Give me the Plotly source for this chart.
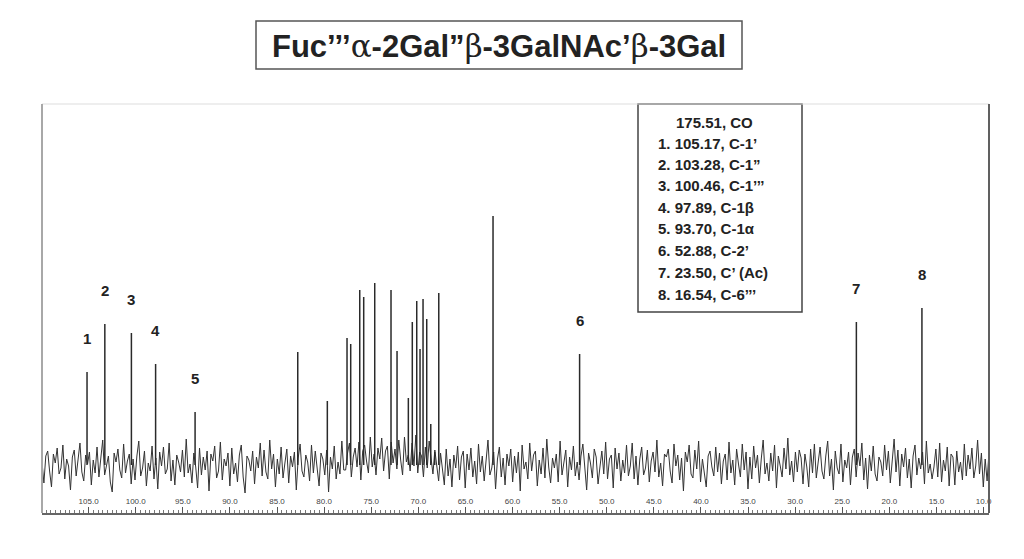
import numpy as np
import plotly.graph_objects as go

# ---- data ----
peak_ppm = [105.17, 103.28, 100.46, 97.89, 93.70, 82.80, 79.66, 77.57, 77.18, 76.22,
            75.80, 74.63, 72.90, 72.26, 71.06, 70.64, 70.17, 69.82, 69.50, 69.11,
            68.68, 68.26, 67.83, 62.07, 52.88, 23.50, 16.54]
peak_height = [93, 141, 132, 101, 53, 113, 64, 127, 121, 175,
               168, 182, 175, 114, 67, 143, 164, 116, 166, 146,
               41, 13, 172, 249, 111, 143, 157]

label_names = ["1", "2", "3", "4", "5", "6", "7", "8"]
label_ppm = [105.17, 103.28, 100.46, 97.89, 93.70, 52.88, 23.50, 16.54]
label_height = [93, 141, 132, 101, 53, 111, 143, 157]

assign_header = "175.51, CO"
assign_lines = ["1. 105.17, C-1’", "2. 103.28, C-1”", "3. 100.46, C-1’’’",
                "4. 97.89, C-1β", "5. 93.70, C-1α", "6. 52.88, C-2’",
                "7. 23.50, C’ (Ac)", "8. 16.54, C-6’’’"]

# baseline noise, left (high ppm) to right (low ppm), estimated from the trace
baseline_noise = [
    3, -18, 9, 14, -6, -22, 11, 2, 17, -9,
    -3, 20, -14, 6, -1, -25, 8, 15, -11, 4,
    22, -7, -16, 10, 1, 13, -20, 5, -8, 18,
    -12, 7, 25, -10, -2, 9, -17, -27, 12, 3,
    16, -5, -13, 21, -8, 4, 11, -19, 6, -15,
    9, 24, -11, -3, 14, -21, 2, -6, 19, -14,
    7, -24, 13, -1, 18, -9, -4, 22, -16, 5,
    -20, 10, 3, -7, 15, -12, 26, -8, 1, -18,
    12, -2, -23, 17, -10, 8, -5, 14, -26, 11,
    4, 19, -13, -6, 23, -15, 6, -1, 12, -21,
    17, -9, 2, -17, 10, 20, -12, -28, 9, 5,
    -6, 14, -19, 8, -3, 22, -11, 15, -7, -14,
    25, -4, 11, -22, 6, -9, 18, -13, 2, 16,
    -18, 9, -2, 13, -25, 7, 21, -6, -12, 10,
    3, -16, 20, -8, 14, -1, -21, 12, 6, -10,
    15, -27, 8, -4, 19, -14, 3, -9, 24, -5,
    -5, 12, 22, -12, 8, 17, -2, 23, -15, 14,
    20, 4, -8, 28, -2, 11, -10, 17, 6, 27,
    -6, 14, 19, -14, 23, 2, 16, -4, 25, 5,
    -10, 28, 3, 10, -6, 22, -1, 30, -8, 13,
    9, -12, 18, -3, 24, 7, -9, 15, 1, -16,
    12, -4, -20, 16, -11, 6, -22, 10, -3, 19,
    -15, 8, 14, -23, 11, -5, 17, -12, 4, -19,
    21, -7, 9, -16, 2, 25, -10, -3, 13, -24,
    6, 18, -12, 7, -20, 11, -1, 16, -17, 9,
    -8, 13, -26, 20, -4, 3, -14, 22, -6, 10,
    14, -21, 5, -9, 17, -13, 26, -2, -18, 7,
    -3, 11, -17, 24, -10, 1, 15, -22, 8, -5,
    19, -11, 3, -15, 9, 21, -6, -25, 12, 2,
    -13, 16, 8, -19, -2, 14, -9, 23, -14, 6,
    10, -23, 17, -4, 12, -16, 5, -8, 20, -11,
    -1, 22, -14, 9, -20, 6, 18, -10, -3, 15,
    -17, 4, 13, -7, 25, -12, 2, -21, 11, 8,
    16, -6, -18, 21, -1, 10, -15, 7, -26, 13,
    3, 20, -9, -13, 15, -4, 24, -17, 6, -10,
    -22, 9, 14, -2, -11, 18, -7, 12, -19, 4,
    11, -15, 23, -8, 5, -20, 16, 1, -12, 21,
    -5, 13, -24, 8, -14, 19, -3, 10, -18, 6,
    25, -9, 2, -16, 12, -6, 20, -23, 9, -1,
    -12, 17, -4, 27, -10, 4, -17, 13, -7, 15,
    7, -19, 11, -2, -22, 16, -8, 21, -13, 3,
    18, -6, -14, 9, 24, -11, 6, -25, 14, -3,
    -9, 21, -17, 5, -3, 13, -20, 8, 16, -12,
    12, -1, 22, -15, 7, -24, 10, -6, 19, -9,
    -16, 8, 3, -11, 20, -5, 14, -18, 2, 26,
    -7, 15, -21, 11, -2, 17, -13, 6, -23, 9,
    20, -10, 7, -4, 13, -19, 24, -8, 1, -14,
    -2, 16, -12, 22, -17, 5, -6, 18, -21, 11,
    8, -20, 14, -7, 3, -15, 21, -11, 10, -4,
    17, -13, -1, 25, -9, 12, -22, 6, -16, 13,
]

X_LEFT, X_RIGHT = 109.95, 9.42   # ppm at plot edges (reversed axis)

# ---- geometry: plot area in window pixels (page has an 8px body margin) ----
OFF = 8
W, H = 1024 - 2 * OFF, 559 - 2 * OFF
PX0, PX1, PY0, PY1 = 42, 989, 104, 513
PW, PH = PX1 - PX0, PY1 - PY0
ML, MT = PX0 - OFF, PY0 - OFF
MR, MB = W - ML - PW, H - MT - PH


def px(xp):
    return (xp - PX0) / PW


def py(yp):
    return (PY1 - yp) / PH


FONT = "Liberation Sans, Arial"
fig = go.Figure()

noise_x = np.linspace(X_LEFT, X_RIGHT, len(baseline_noise))
fig.add_trace(go.Scatter(x=noise_x, y=baseline_noise, mode="lines",
                         line=dict(color="#333333", width=1), hoverinfo="skip"))

stick_x, stick_y = [], []
for p, h in zip(peak_ppm, peak_height):
    stick_x += [p, p, None]
    stick_y += [0, h, None]
fig.add_trace(go.Scatter(x=stick_x, y=stick_y, mode="lines",
                         line=dict(color="#2a2a2a", width=1.5), hoverinfo="skip"))

# peak number labels
for name, p, h in zip(label_names, label_ppm, label_height):
    fig.add_annotation(x=p, y=h, text="<b>%s</b>" % name, showarrow=False,
                       xanchor="center", yanchor="middle", yshift=34,
                       font=dict(family=FONT, size=15, color="#222"))

# title with box
fig.add_shape(type="rect", xref="paper", yref="paper",
              x0=px(256), x1=px(742), y0=py(69), y1=py(21),
              line=dict(color="#555", width=1.5))
greek = '<span style="font-family:DejaVu Serif;font-weight:normal">%s</span>'
title = ("<b>Fuc’’’" + greek % "α" + "-2Gal”" + greek % "β" + "-3GalNAc’" +
         greek % "β" + "-3Gal</b>")
fig.add_annotation(xref="paper", yref="paper", x=px(499), y=py(46), text=title,
                   showarrow=False, xanchor="center", yanchor="middle",
                   font=dict(family=FONT, size=31, color="#222"))

# assignment box
fig.add_shape(type="rect", xref="paper", yref="paper",
              x0=px(638), x1=px(802), y0=py(312), y1=py(104),
              line=dict(color="#444", width=1.5), fillcolor="white", layer="above")
fig.add_annotation(xref="paper", yref="paper", x=px(714), y=py(122),
                   text="<b>%s</b>" % assign_header, showarrow=False,
                   xanchor="center", yanchor="middle",
                   font=dict(family=FONT, size=15, color="#222"))
line_y = [143.5, 164.5, 185.5, 207, 228.5, 250, 272, 294]
for t, yy in zip(assign_lines, line_y):
    fig.add_annotation(xref="paper", yref="paper", x=px(656), y=py(yy),
                       xanchor="left", yanchor="middle",
                       text="<b>%s</b>" % t, showarrow=False,
                       font=dict(family=FONT, size=15, color="#222"))

# frame lines
fig.add_shape(type="line", xref="paper", yref="paper", x0=0, x1=1, y0=1, y1=1,
              line=dict(color="#dddddd", width=1))
fig.add_shape(type="line", xref="paper", yref="paper", x0=0, x1=0, y0=0, y1=1,
              line=dict(color="#a8a8a8", width=2))
fig.add_shape(type="line", xref="paper", yref="paper", x0=1, x1=1, y0=0, y1=1,
              line=dict(color="#606060", width=2))

fig.update_layout(
    width=W, height=H, margin=dict(l=ML, r=MR, t=MT, b=MB),
    paper_bgcolor="white", plot_bgcolor="white", showlegend=False,
    xaxis=dict(range=[X_LEFT, X_RIGHT], dtick=5, tick0=10, tickformat=".1f",
               ticks="inside", ticklen=6, tickcolor="#555", tickwidth=1,
               ticklabelposition="inside", ticklabeloverflow="allow",
               showgrid=False, zeroline=False,
               showline=True, linecolor="#666", linewidth=1.5,
               tickfont=dict(family=FONT, size=8, color="#444"),
               minor=dict(dtick=0.5, ticks="inside", ticklen=3, tickcolor="#777")),
    yaxis=dict(range=[-48, 361], visible=False),
)

fig.write_html("out.html")
